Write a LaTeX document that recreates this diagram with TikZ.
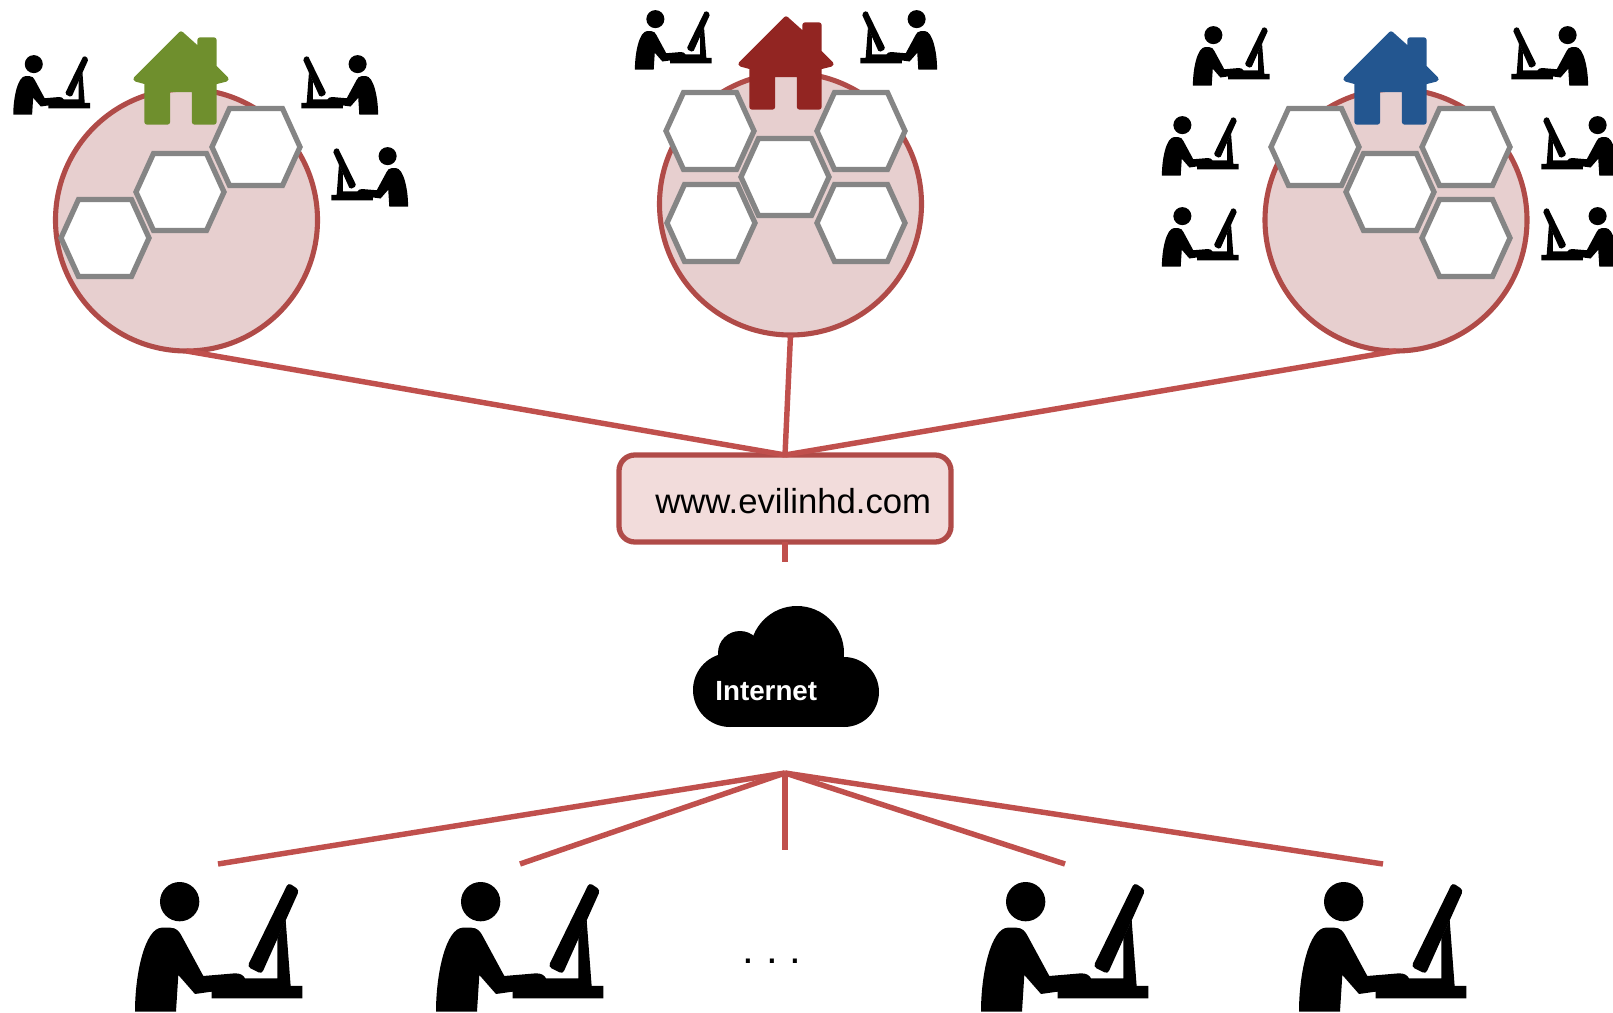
\documentclass[tikz,border=0pt]{standalone}
\usepackage{fontspec}
\setmainfont{Liberation Sans}
\definecolor{linkred}{HTML}{C0504D}
\definecolor{edgered}{HTML}{B04B48}
\definecolor{discfill}{HTML}{E7CFCF}
\definecolor{boxfill}{HTML}{F2DCDB}
\definecolor{hexgray}{HTML}{858585}
\definecolor{housegreen}{HTML}{6F8F2D}
\definecolor{housered}{HTML}{922522}
\definecolor{houseblue}{HTML}{235690}
\tikzset{
  link/.style={draw=linkred,line width=3.1pt},
  disc/.style={circle,draw=edgered,fill=discfill,line width=2.9pt,minimum size=262*0.02cm,inner sep=0pt,outer sep=0pt},
  small/.style={xscale=0.153,yscale=0.153},
  smallflip/.style={xscale=-0.153,yscale=0.153},
  big/.style={xscale=0.3333,yscale=0.3333},
  pics/userfig/.style={code={
    \fill (179,125) circle[radius=59];
    \fill (45,455) .. controls (45,340) and (75,205) .. (125,203) -- (150,203)
      .. controls (170,203) and (178,215) .. (185,228) -- (250,348) -- (345,340)
      .. controls (360,340) and (370,345) .. (375,355) -- (472,355) -- (472,235)
      -- (497,180) -- (512,378) -- (547,378) -- (547,415) -- (275,415) -- (275,395)
      -- (225,402) -- (175,345) -- (168,455) -- cycle;
    \fill[rounded corners=#1] (538,90) -- (505,68) -- (382,320) -- (425,342) -- cycle;
  }},
  pics/hexcell/.style={code={
    \draw[draw=hexgray,fill=white,line width=3pt,line join=miter]
      (-44,0) -- (-26.5,-38.5) -- (26.5,-38.5) -- (44,0) -- (26.5,38.5) -- (-26.5,38.5) -- cycle;
  }},
  pics/housefig/.style={code={
    \filldraw[#1,line width=3pt,line join=round]
      (0,2) -- (19,19) -- (19,8) -- (33,8) -- (33,35) -- (45,47) -- (33,50)
      -- (33,90) -- (13.5,90) -- (13.5,57.5) -- (-13.5,57.5) -- (-13.5,90) -- (-34,90)
      -- (-34,50) -- (-45,47) -- cycle;
  }}
}
\begin{document}
\begin{tikzpicture}[x=0.02cm,y=-0.02cm]
\useasboundingbox (0,0) rectangle (1613,1013);
\clip (0,0) rectangle (1613,1013);

% coordinates for the free ends
\coordinate (fan) at (785,773);
\coordinate (stub) at (785,562);
\coordinate (e1) at (218,864);
\coordinate (e2) at (520,864);
\coordinate (e3) at (785,850);
\coordinate (e4) at (1065,864);
\coordinate (e5) at (1383,864);

% discs and web box
\node[disc] (c1) at (186.5,220) {};
\node[disc] (c2) at (790.5,204) {};
\node[disc] (c3) at (1396,220) {};
\node[draw=edgered,fill=boxfill,line width=3pt,rounded corners=9pt,minimum width=332*0.02cm,minimum height=87*0.02cm,inner sep=0pt,outer sep=0pt] (box) at (785,498.5) {};

% connectors
\draw[link] (c1.south) -- (box.north);
\draw[link] (c2.south) -- (box.north);
\draw[link] (c3.south) -- (box.north);
\draw[link] (box.south) -- (stub);
\draw[link] (fan) -- (e1);
\draw[link] (fan) -- (e2);
\draw[link] (fan) -- (e3);
\draw[link] (fan) -- (e4);
\draw[link] (fan) -- (e5);

\node[anchor=base west,inner sep=0pt,font=\fontsize{19.75pt}{22pt}\selectfont] (site) at (655,513) {www.evilinhd.com};

% houses
\pic (h1) at (181,32) {housefig=housegreen};
\pic (h2) at (786,17) {housefig=housered};
\pic (h3) at (1391,32) {housefig=houseblue};

% hexagons
\foreach \n/\x/\y in {a/105/238,b/180/192,c/256/147,
    d/710/131,e/861/131,f/785/177,g/711/223,i/861/223,
    j/1315/147,k/1466/147,l/1390/192,m/1466/238}
  \pic (hex\n) at (\x,\y) {hexcell};

% cloud
\fill (797,653) circle[radius=47];
\fill (740,653) circle[radius=22];
\fill (730,690) circle[radius=37];
\fill (844,692) circle[radius=35];
\fill (730,650) rectangle (844,727);
\node[anchor=base west,inner sep=0pt,text=white,font=\fontsize{15.8pt}{18pt}\selectfont\bfseries] (inet) at (715,700) {Internet};

% small users
\pic[small] (u1) at (6.4,45) {userfig=1pt};
\pic[smallflip] (u2) at (385,45) {userfig=1pt};
\pic[smallflip] (u3) at (415,137) {userfig=1pt};
\pic[small] (u4) at (628,0) {userfig=1pt};
\pic[smallflip] (u5) at (944,0) {userfig=1pt};
\pic[small] (u6) at (1186,16) {userfig=1pt};
\pic[small] (u7) at (1155,106) {userfig=1pt};
\pic[small] (u8) at (1155,197) {userfig=1pt};
\pic[smallflip] (u9) at (1595,16) {userfig=1pt};
\pic[smallflip] (u10) at (1625,106) {userfig=1pt};
\pic[smallflip] (u11) at (1625,197) {userfig=1pt};

% large users
\pic[big] (v1) at (120,860) {userfig=2pt};
\pic[big] (v2) at (421,860) {userfig=2pt};
\pic[big] (v3) at (966,860) {userfig=2pt};
\pic[big] (v4) at (1284,860) {userfig=2pt};

\node[anchor=base,inner sep=0pt,font=\fontsize{24pt}{26pt}\selectfont\frenchspacing] (dots) at (772,963) {. . .};
\end{tikzpicture}
\end{document}
